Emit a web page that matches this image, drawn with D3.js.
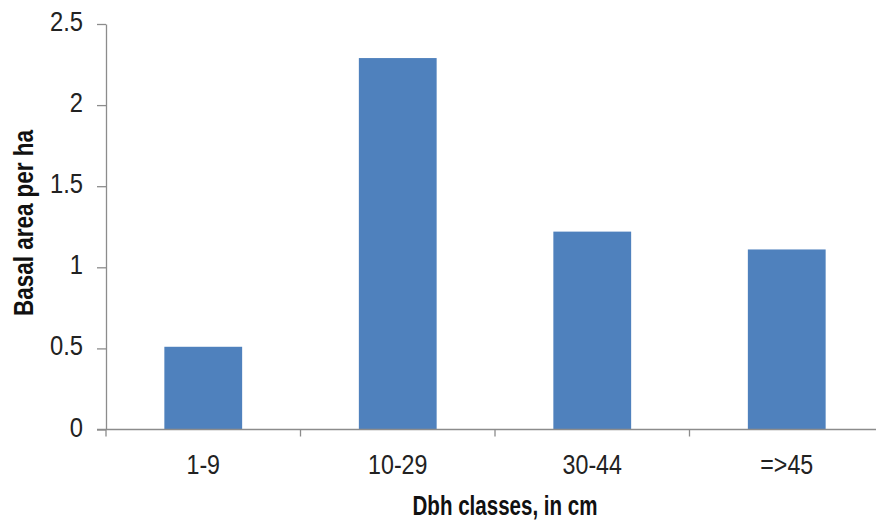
<!DOCTYPE html>
<html>
<head>
<meta charset="utf-8">
<script src="https://cdn.jsdelivr.net/npm/d3@7"></script>
<style>
  html, body { margin: 0; padding: 0; background: #fff; }
  svg { display: block; }
</style>
</head>
<body>
<svg id="chart" width="876" height="522"></svg>
<script>
// Basal area per hectare by diameter class
const categories = ["1-9", "10-29", "30-44", "=>45"];
const basalArea = [0.51, 2.29, 1.22, 1.11];
const yTicks = [0, 0.5, 1, 1.5, 2, 2.5];
const yTickLabels = ["0", "0.5", "1", "1.5", "2", "2.5"];

const svg = d3.select("#chart");
const margin = { left: 106, right: -8, top: 24, bottom: 92 };
const W = 876, H = 522;
const FONT = "Liberation Sans, Arial, sans-serif";

const x = d3.scaleBand()
  .domain(categories)
  .range([margin.left, W - margin.right])
  .paddingInner(0.6)
  .paddingOuter(0.3);

const y = d3.scaleLinear()
  .domain([0, 2.5])
  .range([H - margin.bottom - 0.5, margin.top]);

const axisColor = "#8c8c8c";
const textColor = "#222";

// bars
svg.append("g").selectAll("rect")
  .data(basalArea)
  .join("rect")
  .attr("x", (d, i) => x(categories[i]))
  .attr("width", x.bandwidth())
  .attr("y", d => y(d))
  .attr("height", d => y(0) - y(d))
  .attr("fill", "#4f81bd");

// y axis: line and ticks from d3, labels set narrow by hand
const yAxis = svg.append("g")
  .attr("transform", `translate(${margin.left},0)`)
  .call(d3.axisLeft(y).tickValues(yTicks)
    .tickFormat("")
    .tickSize(9).tickSizeOuter(0));
yAxis.select(".domain").attr("stroke", axisColor).attr("stroke-width", 1.3);
yAxis.selectAll(".tick line").attr("stroke", axisColor).attr("stroke-width", 1.3);

svg.append("g").selectAll("text")
  .data(yTicks)
  .join("text")
  .attr("transform", d => `translate(83,${y(d) + 7}) scale(0.88,1)`)
  .attr("text-anchor", "end")
  .attr("fill", textColor)
  .attr("font-family", FONT)
  .attr("font-size", 27)
  .text((d, i) => yTickLabels[i]);

// x axis with ticks at band boundaries
const xAxisG = svg.append("g")
  .attr("transform", `translate(0,${y(0)})`);
xAxisG.append("line")
  .attr("x1", margin.left - 9).attr("x2", W)
  .attr("stroke", axisColor).attr("stroke-width", 1.3);
const boundaries = categories.map(c => x(c) - (x.step() - x.bandwidth()) / 2);
xAxisG.selectAll("line.tk")
  .data(boundaries)
  .join("line")
  .attr("class", "tk")
  .attr("x1", d => d).attr("x2", d => d)
  .attr("y1", 0).attr("y2", 7)
  .attr("stroke", axisColor).attr("stroke-width", 1.3);
xAxisG.selectAll("text")
  .data(categories)
  .join("text")
  .attr("transform", d => `translate(${x(d) + x.bandwidth() / 2},44) scale(0.86,1)`)
  .attr("text-anchor", "middle")
  .attr("fill", textColor)
  .attr("font-family", FONT)
  .attr("font-size", 27)
  .text(d => d);

// axis titles
svg.append("text")
  .attr("x", 505).attr("y", 515)
  .attr("text-anchor", "middle")
  .attr("fill", "#111")
  .attr("font-family", FONT)
  .attr("font-weight", "bold")
  .attr("font-size", 27)
  .attr("textLength", 185)
  .attr("lengthAdjust", "spacingAndGlyphs")
  .text("Dbh classes, in cm");

svg.append("text")
  .attr("transform", "translate(33,223) rotate(-90)")
  .attr("text-anchor", "middle")
  .attr("fill", "#111")
  .attr("font-family", FONT)
  .attr("font-weight", "bold")
  .attr("font-size", 27)
  .attr("textLength", 186)
  .attr("lengthAdjust", "spacingAndGlyphs")
  .text("Basal area per ha");
</script>
</body>
</html>
